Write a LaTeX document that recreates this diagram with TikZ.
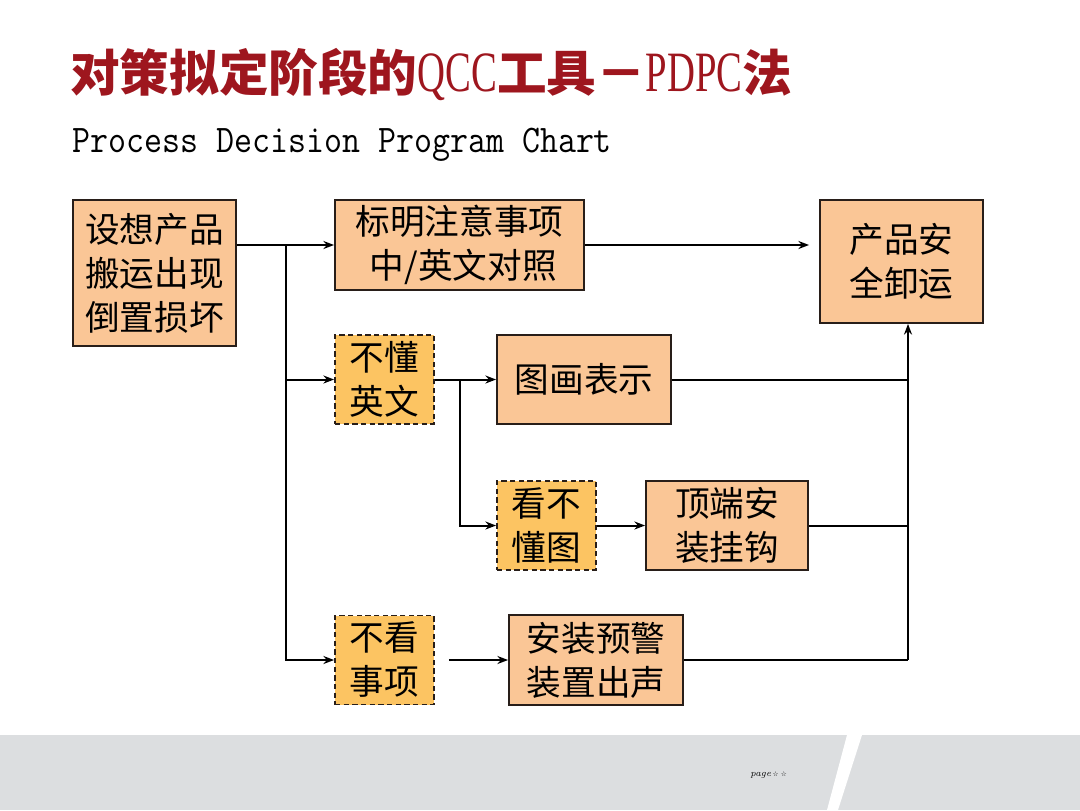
\documentclass[tikz,border=0pt]{standalone}
\usepackage{fontspec}
\usepackage{graphicx}
\usepackage{tikz}
\usetikzlibrary{arrows.meta}
\newfontfamily\cjk{Noto Sans CJK SC}
\newfontfamily\latinser{Liberation Serif}
\newfontfamily\symfont{DejaVu Sans}
\definecolor{titlered}{RGB}{158,22,30}
\definecolor{peach}{RGB}{250,198,150}
\definecolor{amber}{RGB}{252,196,98}
\definecolor{bandgray}{RGB}{220,222,224}
\definecolor{edge}{RGB}{40,30,25}

\begin{document}
\begin{tikzpicture}[x=0.75pt,y=-0.75pt,
		bx/.style 2 args={draw=edge,line width=1.4pt,fill=peach,inner sep=0pt,align=center,
			minimum width=#1*0.75pt,minimum height=#2*0.75pt,
			font=\cjk\fontsize{26}{33}\selectfont},
		qbx/.style 2 args={bx={#1}{#2},fill=amber,dash pattern=on 4pt off 2.5pt},
		ln/.style={line width=1.5pt,draw=black},
		arr/.style={ln,-{Stealth[length=8pt,width=6pt]}}]
				\useasboundingbox (0,0) rectangle (1080,810);
				% footer band
				\fill[bandgray] (0,735) rectangle (1080,810);
				\fill[white] (847,735) -- (862,735) -- (838,810) -- (827,810) -- cycle;
				\node[anchor=west,inner sep=0pt,font=\fontsize{7}{8}\selectfont] (pg) at (750,775) {\itshape page\,\symfont\tiny ☆\,\,☆};
				% title
				\node[anchor=west,inner sep=0pt,text=titlered,font=\cjk\bfseries\fontsize{37.2}{40}\selectfont] (title) at (70,75)
					{对策拟定阶段的{\latinser\mdseries\scalebox{0.78}[1.15]{QCC}}工具－{\latinser\mdseries\scalebox{0.78}[1.15]{PDPC}}法};
				\node[anchor=west,inner sep=0pt,font=\ttfamily\fontsize{26.2}{28}\selectfont] (subtitle) at (72,145)
					{\scalebox{1}[1.12]{Process Decision Program Chart}};
				% boxes
				\node[bx={163}{146}] (cause) at (154.5,273) {设想产品\\搬运出现\\倒置损坏};
				\node[bx={249}{90}] (mark) at (459.5,245) {标明注意事项\\\ 中/英文对照};
				\node[bx={163}{123}] (safe) at (901.5,261.5) {产品安\\全卸运};
				\node[qbx={99}{89}] (noeng) at (384.5,379.5) {不懂\\英文};
				\node[bx={174}{89}] (pict) at (584,379.5) {图画表示};
				\node[qbx={99}{89}] (nopic) at (546.5,525.5) {看不\\懂图};
				\node[bx={162}{89}] (hook) at (727,525.5) {顶端安\\装挂钩};
				\node[qbx={99}{89}] (nolook) at (384.5,660) {不看\\事项};
				\node[bx={174}{90}] (alarm) at (596,660) {安装预警\\装置出声};
				\coordinate (split) at (286,245);
				\coordinate (fork) at (460,379.5);
				\coordinate (bus) at (908,0);
				% connectors
				\draw[arr] (cause.east |- mark) -- (mark.west);
				\draw[arr] (split) |- (noeng.west);
				\draw[arr] (split) |- (nolook.west);
				\draw[arr,shorten >=10*0.75pt] (mark.east) -- (mark.east -| safe.west);
				\draw[arr] (noeng) -- (pict);
				\draw[arr] (fork) |- (nopic.west);
				\draw[arr] (nopic) -- (hook);
				\draw[arr,shorten <=14*0.75pt] (nolook) -- (alarm);
				\draw[ln] (pict) -- (pict -| bus);
				\draw[ln] (hook) -- (hook -| bus);
				\draw[ln] (alarm) -- (alarm -| bus);
				\draw[arr] (alarm -| bus) -- (bus |- safe.south);
			\end{tikzpicture}
\end{document}
